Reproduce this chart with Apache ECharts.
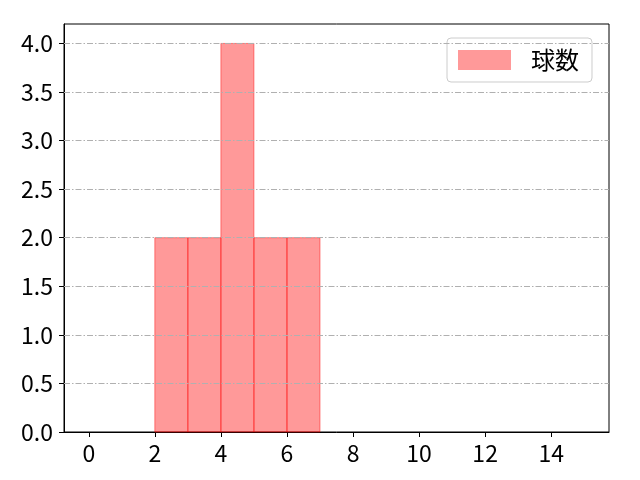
<!DOCTYPE html>
<html>
<head>
<meta charset="utf-8">
<script src="https://cdn.jsdelivr.net/npm/echarts@6/dist/echarts.min.js"></script>
<style>
html, body { margin: 0; padding: 0; background: #fff; }
#main { width: 640px; height: 480px; }
</style>
</head>
<body>
<div id="main"></div>
<script>
// ヒストグラムのデータ
var binStarts = [2, 3, 4, 5, 6];
var binCounts = [2, 2, 4, 2, 2];
var binWidth = 1;
var seriesName = '球数';
var xTicks = [0, 2, 4, 6, 8, 10, 12, 14];
var yTicks = [0, 0.5, 1.0, 1.5, 2.0, 2.5, 3.0, 3.5, 4.0];

var FONT = '"Noto Sans CJK JP", "Noto Sans", sans-serif';

var myChart = echarts.init(document.getElementById('main'));

var bars = [];
for (var i = 0; i < binStarts.length; i++) {
    bars.push([binStarts[i], binStarts[i] + binWidth, binCounts[i]]);
}

var option = {
    animation: false,
    backgroundColor: '#fff',
    grid: {
        left: 64, right: 31, top: 24, bottom: 48, containLabel: false,
        show: true, borderColor: '#000', borderWidth: 1, backgroundColor: 'transparent'
    },
    legend: {
        left: 447,
        top: 38,
        orient: 'vertical',
        data: [{ name: seriesName, icon: 'rect' }],
        itemWidth: 53,
        itemHeight: 20,
        padding: [10, 13, 10, 11],
        borderColor: '#cccccc',
        borderWidth: 1,
        borderRadius: 4,
        backgroundColor: 'rgba(255,255,255,0.8)',
        textStyle: { fontFamily: FONT, fontSize: 24, color: '#000', padding: [0, 0, 0, 15] }
    },
    xAxis: {
        type: 'value',
        min: -0.75,
        max: 15.75,
        axisLine: { show: true, onZero: false, lineStyle: { color: '#000', width: 1 } },
        axisTick: { show: true, length: 5, customValues: xTicks, lineStyle: { color: '#000' } },
        axisLabel: {
            customValues: xTicks,
            fontFamily: FONT, fontSize: 23, color: '#000', margin: 10,
            formatter: function (v) { return String(v); }
        },
        splitLine: { show: false }
    },
    yAxis: {
        type: 'value',
        min: 0,
        max: 4.2,
        axisLine: { show: true, onZero: false, lineStyle: { color: '#000', width: 1 } },
        axisTick: { show: true, length: 5, customValues: yTicks, lineStyle: { color: '#000' } },
        axisLabel: {
            customValues: yTicks,
            fontFamily: FONT, fontSize: 23, color: '#000', margin: 11,
            formatter: function (v) { return v.toFixed(1); }
        },
        splitLine: { show: false }
    },
    series: [
        {
            // グリッド線（一点鎖線）
            type: 'line',
            silent: true,
            z: 0,
            data: [],
            markLine: {
                silent: true,
                symbol: ['none', 'none'],
                label: { show: false },
                lineStyle: { color: '#b0b0b0', width: 1, type: [6, 2, 1.5, 2] },
                data: yTicks.slice(1).map(function (v) { return { yAxis: v }; })
            }
        },
        {
            name: seriesName,
            type: 'custom',
            itemStyle: { color: 'rgba(255,0,0,0.4)' },
            encode: { x: [0, 1], y: 2 },
            renderItem: function (params, api) {
                var p0 = api.coord([api.value(0), 0]);
                var p1 = api.coord([api.value(1), api.value(2)]);
                return {
                    type: 'rect',
                    shape: { x: p0[0], y: p1[1], width: p1[0] - p0[0], height: p0[1] - p1[1] },
                    style: { fill: 'rgba(255,0,0,0.4)', stroke: 'rgba(255,0,0,0.45)', lineWidth: 1 }
                };
            },
            data: bars
        }
    ]
};
myChart.setOption(option);
</script>
</body>
</html>
